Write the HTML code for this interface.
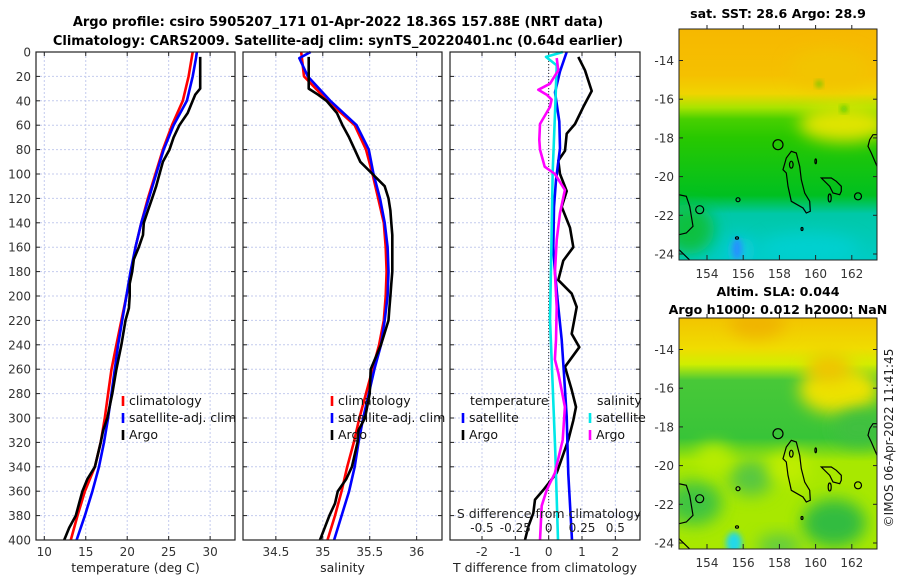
<!DOCTYPE html>
<html><head><meta charset="utf-8"><style>
body{margin:0;background:#fff;}
svg{display:block;font-family:"DejaVu Sans","Liberation Sans",sans-serif;}
</style></head><body>
<svg id="fig" width="900" height="580" viewBox="0 0 900 580">
<text x="338" y="26" text-anchor="middle" font-size="13" font-weight="bold">Argo profile: csiro 5905207_171 01-Apr-2022 18.36S 157.88E (NRT data)</text>
<text x="338" y="45" text-anchor="middle" font-size="13" font-weight="bold">Climatology: CARS2009. Satellite-adj clim: synTS_20220401.nc (0.64d earlier)</text>
<defs>
<filter id="bl" x="-50%" y="-50%" width="200%" height="200%"><feGaussianBlur stdDeviation="8"/></filter>
<filter id="bs" x="-50%" y="-50%" width="200%" height="200%"><feGaussianBlur stdDeviation="3"/></filter>
<clipPath id="mclip"><rect x="0" y="0" width="198" height="231"/></clipPath>
<linearGradient id="g1" x1="0" y1="0" x2="0" y2="1">
<stop offset="0" stop-color="#f6b800"/><stop offset="0.2" stop-color="#f5c000"/><stop offset="0.28" stop-color="#f0d400"/><stop offset="0.34" stop-color="#a8e400"/><stop offset="0.39" stop-color="#48d000"/><stop offset="0.47" stop-color="#28c800"/><stop offset="0.72" stop-color="#00c020"/><stop offset="0.8" stop-color="#00c8a8"/><stop offset="1" stop-color="#00ccc4"/></linearGradient>
<linearGradient id="g2" x1="0" y1="0" x2="0" y2="1">
<stop offset="0" stop-color="#f2c400"/><stop offset="0.13" stop-color="#f0dc00"/><stop offset="0.2" stop-color="#d0ee00"/><stop offset="0.27" stop-color="#48c838"/><stop offset="0.52" stop-color="#38c438"/><stop offset="0.62" stop-color="#a8e800"/><stop offset="1" stop-color="#a8e800"/></linearGradient>
</defs>
<g id="plots"></g>
<text transform="translate(893,438) rotate(-90)" text-anchor="middle" font-size="12" fill="#222">©IMOS 06-Apr-2022 11:41:45</text>
</svg>
<script>
// ---- Temperature / salinity profile data ----
const climDepth = [0,20,40,60,80,100,120,140,160,180,200,220,240,260,280,300,320,340,360,380,400];
const tempClim = [27.9,27.4,26.7,25.4,24.3,23.4,22.5,21.7,21.0,20.5,19.9,19.3,18.7,18.1,17.7,17.3,16.8,16.1,14.9,14.0,13.2];
const salClim = [34.77,34.80,35.05,35.34,35.46,35.53,35.59,35.65,35.67,35.68,35.67,35.65,35.60,35.53,35.46,35.39,35.33,35.26,35.20,35.13,35.05];
const satDepth = [0,5,20,40,60,80,100,120,140,160,180,200,220,240,260,280,300,320,340,360,380,400];
const tempSat = [28.4,28.3,27.9,27.2,25.6,24.4,23.5,22.6,21.7,21.0,20.4,19.9,19.4,18.9,18.5,18.1,17.7,17.2,16.6,15.8,14.9,13.9];
const salSat = [34.87,34.75,34.84,35.08,35.36,35.49,35.54,35.61,35.66,35.69,35.70,35.69,35.66,35.62,35.55,35.49,35.43,35.38,35.34,35.28,35.20,35.12];
const argoDepth = [4,10,20,30,35,40,50,60,70,80,90,100,110,120,130,140,150,160,170,180,190,200,210,220,240,260,280,300,310,320,340,350,360,370,380,390,400];
const argoTemp = [28.8,28.8,28.8,28.8,28.2,27.9,27.3,26.3,25.6,25.1,24.3,23.9,23.5,23.0,22.5,22.0,21.9,21.4,20.8,20.6,20.3,20.3,20.2,19.8,19.3,18.7,18.2,17.6,17.1,16.8,16.1,15.2,14.6,14.2,13.8,13.0,12.4];
const argoSal = [34.85,34.85,34.85,34.85,34.95,35.04,35.15,35.21,35.28,35.34,35.40,35.53,35.66,35.70,35.72,35.73,35.74,35.74,35.74,35.74,35.73,35.72,35.71,35.70,35.62,35.51,35.50,35.45,35.38,35.37,35.31,35.25,35.16,35.13,35.07,35.02,34.97];
// ---- Differences from climatology ----
const tSatDiffDepth = [0,16,33,57,79,105,127,160,181,209,236,264,299,346,400];
const tSatDiff = [0.54,0.34,0.19,0.32,0.34,0.22,0.16,0.14,0.19,0.29,0.39,0.46,0.54,0.59,0.70];
const sSatDiffDepth = [0,4,11,44,98,164,219,274,328,400];
const sSatDiff = [0.107,-0.02,0.06,0.05,0.03,0.02,0.01,0.03,0.05,0.07];
const tArgoDiffDepth = [4,15,32,45,59,67,81,89,100,114,127,144,160,171,187,198,209,231,242,258,277,291,302,318,345,359,367,378,389,400];
const tArgoDiff = [0.89,1.09,1.29,1.04,0.79,0.54,0.49,0.29,0.34,0.54,0.39,0.64,0.74,0.44,0.29,0.69,0.84,0.69,0.92,0.49,0.69,0.82,0.74,0.59,0.24,-0.16,-0.41,-0.46,-0.61,-0.71];
const sArgoDiffDepth = [5,15,26,31,35,39,45,59,72,80,94,100,113,132,154,181,209,236,252,263,291,318,345,359,372,400];
const sArgoDiff = [0.06,0.072,0.01,-0.078,-0.015,0.022,0.01,-0.065,-0.07,-0.065,-0.03,0.047,0.122,0.085,0.06,0.047,0.06,0.055,0.047,0.072,0.122,0.105,0.047,-0.015,-0.052,-0.065];
// ---- Axis ticks ----
const depthTicks = [0,20,40,60,80,100,120,140,160,180,200,220,240,260,280,300,320,340,360,380,400];
const tempTicks = [10,15,20,25,30];
const salTicks = [34.5,35,35.5,36];
const tDiffTicks = [-2,-1,0,1,2];
const sDiffTicks = [-0.5,-0.25,0,0.25,0.5];
const lonTicks = [154,156,158,160,162];
const latTicks = [-14,-16,-18,-20,-22,-24];

const NS='http://www.w3.org/2000/svg';
const root=document.getElementById('plots');
function mk(tag,attrs,parent,txt){const e=document.createElementNS(NS,tag);for(const k in attrs)e.setAttribute(k,attrs[k]);if(txt!==undefined)e.textContent=txt;(parent||root).appendChild(e);return e;}
const Y0=52,Y1=540,DMAX=400;
const yD=d=>Y0+(d/DMAX)*(Y1-Y0);
function xs(p){return v=>p.x0+(v-p.min)/(p.max-p.min)*(p.x1-p.x0);}
const panels=[
 {x0:36,x1:235,min:9.0,max:33.0,ticks:tempTicks,label:'temperature (deg C)',name:'temperature-panel'},
 {x0:243,x1:442,min:34.15,max:36.27,ticks:salTicks,label:'salinity',name:'salinity-panel'},
 {x0:450,x1:640,min:-2.96,max:2.74,ticks:tDiffTicks,label:'T difference from climatology',name:'difference-panel'}
];
panels.forEach((p,i)=>{
 const g=mk('g',{});
 
 
 p.g=g; p.x=xs(p);
 mk('rect',{x:p.x0,y:Y0,width:p.x1-p.x0,height:Y1-Y0,fill:'#fff'},g);
 depthTicks.forEach(d=>{
  const l=mk('line',{x1:p.x0,x2:p.x1,y1:yD(d),y2:yD(d),stroke:'#c4cbee','stroke-width':1,'stroke-dasharray':'2,2'},g);
  
  
  mk('line',{x1:p.x0,x2:p.x0+4,y1:yD(d),y2:yD(d),stroke:'#222'},g);
  mk('line',{x1:p.x1-4,x2:p.x1,y1:yD(d),y2:yD(d),stroke:'#222'},g);
 });
 p.ticks.forEach(t=>{
  const X=p.x(t);
  const l=mk('line',{x1:X,x2:X,y1:Y0,y2:Y1,stroke:'#c4cbee','stroke-width':1,'stroke-dasharray':'2,2'},g);
  
  
  mk('line',{x1:X,x2:X,y1:Y1-4,y2:Y1,stroke:'#222'},g);
  mk('line',{x1:X,x2:X,y1:Y0,y2:Y0+4,stroke:'#222'},g);
  const tl=mk('text',{x:X,y:Y1+16,'text-anchor':'middle','font-size':12,fill:'#333'},g,String(t));
  
  
 });
 const xl=mk('text',{x:(p.x0+p.x1)/2,y:572,'text-anchor':'middle','font-size':12.5,fill:'#222'},g,p.label);
 
 
});
depthTicks.forEach(d=>{
 const t=mk('text',{x:31,y:yD(d)+4.5,'text-anchor':'end','font-size':12,fill:'#333'},root,String(d));
 
 
});
function line(p,vals,depths,color,name,scale){
 const f=scale||p.x;
 const pts=vals.map((v,i)=>f(v).toFixed(1)+','+yD(depths[i]).toFixed(1)).join(' ');
 const e=mk('polyline',{points:pts,fill:'none',stroke:color,'stroke-width':2.6,'stroke-linejoin':'round'},p.g);
 
 
}
const P1=panels[0],P2=panels[1],P3=panels[2];
line(P1,tempClim,climDepth,'#f00','temp-climatology-line');
line(P1,tempSat,satDepth,'#00f','temp-satellite-line');
line(P1,argoTemp,argoDepth,'#000','temp-argo-line');
line(P2,salClim,climDepth,'#f00','sal-climatology-line');
line(P2,salSat,satDepth,'#00f','sal-satellite-line');
line(P2,argoSal,argoDepth,'#000','sal-argo-line');
mk('line',{x1:P3.x(0),x2:P3.x(0),y1:Y0,y2:Y1,stroke:'#333','stroke-width':1,'stroke-dasharray':'1,2'},P3.g);
const sx=v=>P3.x(v*4);
line(P3,tArgoDiff,tArgoDiffDepth,'#000','t-argo-diff-line');
line(P3,tSatDiff,tSatDiffDepth,'#00f','t-satellite-diff-line');
line(P3,sSatDiff,sSatDiffDepth,'#00e8e8','s-satellite-diff-line',sx);
line(P3,sArgoDiff,sArgoDiffDepth,'#f0f','s-argo-diff-line',sx);
sDiffTicks.forEach(t=>{
 const X=sx(t);
 const tl=mk('text',{x:X,y:532,'text-anchor':'middle','font-size':12,fill:'#222'},P3.g,String(t));
 
 
});
const st=mk('text',{x:549,y:518,'text-anchor':'middle','font-size':12.5,fill:'#222'},P3.g,'S difference from climatology');


panels.forEach(p=>{mk('rect',{x:p.x0,y:Y0,width:p.x1-p.x0,height:Y1-Y0,fill:'none',stroke:'#222','stroke-width':1.2},p.g);});
function legend(g,x,y,color,label,name){
 const e=mk('g',{},g);
 
 
 mk('line',{x1:x,x2:x,y1:y-9,y2:y+1,stroke:color,'stroke-width':2.6},e);
 mk('text',{x:x+6,y:y,'font-size':12.5,fill:'#111'},e,label);
}
[[P1,123],[P2,332]].forEach(([p,x])=>{
 legend(p.g,x,405,'#f00','climatology','legend-climatology');
 legend(p.g,x,422,'#00f','satellite-adj. clim','legend-satellite-adj');
 legend(p.g,x,439,'#000','Argo','legend-argo');
});
const lt=mk('text',{x:470,y:405,'font-size':12.5,fill:'#111'},P3.g,'temperature');


legend(P3.g,463,422,'#00f','satellite','legend-t-satellite');
legend(P3.g,463,439,'#000','Argo','legend-t-argo');
const ls=mk('text',{x:597,y:405,'font-size':12.5,fill:'#111'},P3.g,'salinity');


legend(P3.g,590,422,'#00e8e8','satellite','legend-s-satellite');
legend(P3.g,590,439,'#f0f','Argo','legend-s-argo');

// ---- maps ----
const contourPaths=[
 'M112.3,122.3 L117.3,124 L120.7,137.3 L122.3,150.7 L125.7,164 L130.7,172.3 L131.3,182.3 L127.3,184 L124,179 L112.3,172.3 L109,157.3 L107.3,144 L104,140.7 L107.3,129 Z',
 'M142.3,149 L152.3,149 L157.3,152.3 L162.3,157.3 L162.3,162.3 L160.7,165.7 L154,164 L150.7,157.3 Z',
 'M0,165.7 L7.3,167.3 L10.7,177.3 L14,197.3 L7.3,204 L0,205.7',
 'M0,220.7 L10.7,231',
 'M198,105.7 L194,105.7 L190.7,110.7 L189,117.3 L192.3,124 L198,137.3'
];
const contourEllipses=[[99,115.7,5,5],[179,167.3,3.5,3.5],[150.7,169,1.5,4],[59,170.7,2,2],[20.7,180.7,4,4],[112.3,135.7,1.8,3.5],[136.7,132.3,0.8,2.5],[123,200,1,1.5],[58,209,1.5,1.2]];
function map(ox,oy,grad,blobs,name,title){
 const g=mk('g',{transform:`translate(${ox},${oy})`});
 
 
 const c=mk('g',{'clip-path':'url(#mclip)'},g);
 mk('rect',{x:0,y:0,width:198,height:231,fill:`url(#${grad})`},c);
 blobs.forEach(b=>mk('ellipse',{cx:b[0],cy:b[1],rx:b[2],ry:b[3],fill:b[4],filter:b[5]?'url(#bs)':'url(#bl)'},c));
 contourPaths.forEach(d=>mk('path',{d:d,fill:'none',stroke:'#000','stroke-width':1.2},c));
 contourEllipses.forEach(e=>mk('ellipse',{cx:e[0],cy:e[1],rx:e[2],ry:e[3],fill:'none',stroke:'#000','stroke-width':1.2},c));
 mk('rect',{x:0,y:0,width:198,height:231,fill:'none',stroke:'#222','stroke-width':1},g);
 lonTicks.forEach(l=>{const X=28+(l-154)*18.1;
  mk('line',{x1:X,x2:X,y1:231,y2:226,stroke:'#222'},g);
  mk('line',{x1:X,x2:X,y1:-4,y2:0,stroke:'#222'},g);
  const t=mk('text',{x:X,y:249,'text-anchor':'middle','font-size':12,fill:'#333'},g,String(l));
  
  });
 latTicks.forEach(l=>{const Y=31.5+(-14-l)*19.35;
  mk('line',{x1:0,x2:4,y1:Y,y2:Y,stroke:'#222'},g);
  mk('line',{x1:194,x2:198,y1:Y,y2:Y,stroke:'#222'},g);
  const t=mk('text',{x:-5,y:Y+4.5,'text-anchor':'end','font-size':12,fill:'#333'},g,String(l));
  
  });
 title.forEach((s,i)=>{const t=mk('text',{x:99,y:-22+i*18+(title.length===1?11:0),'text-anchor':'middle','font-size':12.6,'font-weight':'bold'},g,s);
  
  });
}
map(679,29,'g1',[
 [165,95,45,18,'#e0e400'],[150,40,40,20,'#f2c400'],[10,200,25,25,'#10c040'],
 [62,222,14,14,'#10cce0'],[58,220,5,11,'#2890ff',1],[130,220,50,15,'#00d0d0'],[140,55,3,3,'#40c800',1],[165,80,3,3,'#20c010',1]
],'sst-map',['sat. SST: 28.6 Argo: 28.9']);
map(679,318,'g2',[
 [160,72,40,24,'#ece200'],[78,5,28,15,'#f0b400'],[150,50,22,14,'#f0c400'],
 [15,185,28,22,'#40c440'],[72,160,22,18,'#58c840'],[155,205,32,24,'#30bc40'],
 [35,140,18,14,'#b8ec00'],[110,150,20,15,'#c0ee00'],[100,228,22,12,'#60cc40'],
 [55,225,8,11,'#20d8e8',1],[180,110,25,18,'#40c040']
],'sla-map',['Altim. SLA: 0.044','Argo h1000: 0.012 h2000: NaN']);
</script>
</body></html>
